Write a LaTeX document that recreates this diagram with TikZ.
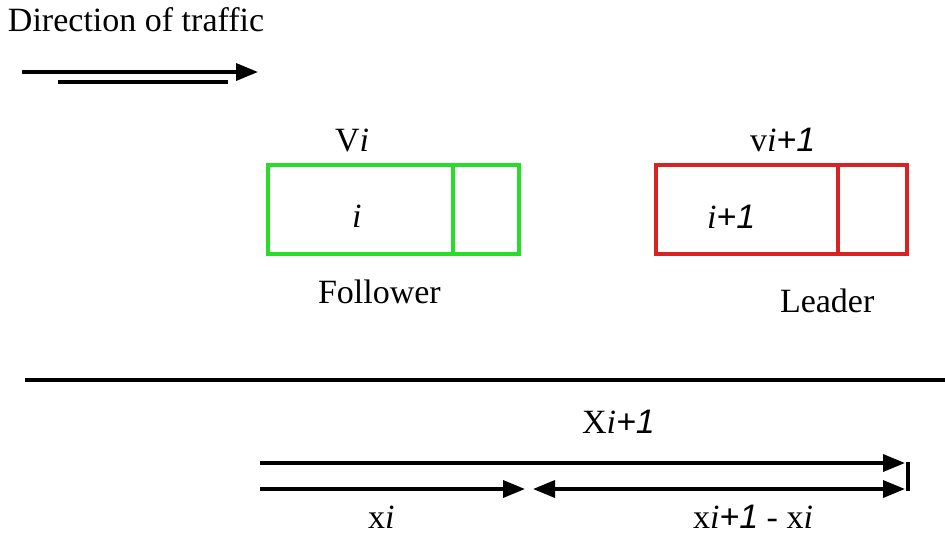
\documentclass[tikz,border=0pt]{standalone}
\usepackage{fontspec}
\setmainfont{Liberation Serif}
\newfontfamily\sfit{Liberation Sans}
\usetikzlibrary{arrows.meta}
\definecolor{cgreen}{RGB}{40,220,40}
\definecolor{cred}{RGB}{215,35,35}
\newcommand{\po}{{\sfit\itshape +1}}
\begin{document}
\begin{tikzpicture}[x=1pt,y=-1pt,
  every node/.style={inner sep=0pt, outer sep=0pt, font=\fontsize{34}{40}\selectfont},
  lbl/.style={anchor=base west},
  thick3/.style={line width=3.5pt},
  arr/.style={line width=3.5pt, -{Triangle[length=22pt,width=17pt]}},
  darr/.style={line width=3.5pt, {Triangle[length=22pt,width=17pt]}-{Triangle[length=22pt,width=17pt]}},
  carbox/.style={line width=3.3pt, minimum width=251pt, minimum height=89pt, anchor=north west}]
\useasboundingbox (0,0) rectangle (945,542);
% direction of traffic
\node[lbl] (dir) at (8,31) {Direction of traffic};
\coordinate (d1) at (22,72); \coordinate (d2) at (258,72);
\coordinate (d3) at (58,82); \coordinate (d4) at (228,82);
\draw[arr] (d1) -- (d2);
\draw[thick3] (d3) -- (d4);
% follower
\node[carbox, draw=cgreen] (fol) at (268,165) {};
\draw[line width=3.3pt, cgreen] ([xshift=185pt]fol.north west) -- ([xshift=185pt]fol.south west);
\node[lbl] (vi) at (335,151) {V\textit{i}};
\node[lbl] (ii) at (352,227) {\textit{i}};
\node[lbl] (follab) at (318,303) {Follower};
% leader
\node[carbox, draw=cred] (lead) at (656,165) {};
\draw[line width=3.3pt, cred] ([xshift=182pt]lead.north west) -- ([xshift=182pt]lead.south west);
\node[lbl] (vip) at (750,151) {v\textit{i}\po};
\node[lbl] (iip) at (707,228) {\textit{i}\po};
\node[lbl] (leadlab) at (780,312) {Leader};
% road
\coordinate (g1) at (25,380); \coordinate (g2) at (945,380);
\draw[thick3] (g1) -- (g2);
% distances
\node[lbl] (Xip) at (582,433) {X\textit{i}\po};
\coordinate (a1) at (260,463); \coordinate (a2) at (905,463);
\draw[arr] (a1) -- (a2);
\coordinate (v1) at (908,462); \coordinate (v2) at (908,491);
\draw[thick3] (v1) -- (v2);
\coordinate (b1) at (260,489); \coordinate (b2) at (525,489);
\draw[arr] (b1) -- (b2);
\coordinate (c1) at (533,489); \coordinate (c2) at (905,489);
\draw[darr] (c1) -- (c2);
\node[lbl] (xi) at (368,528) {x\textit{i}};
\node[lbl] (xdiff) at (693,528) {x\textit{i}\po{} - x\textit{i}};
\end{tikzpicture}
\end{document}
